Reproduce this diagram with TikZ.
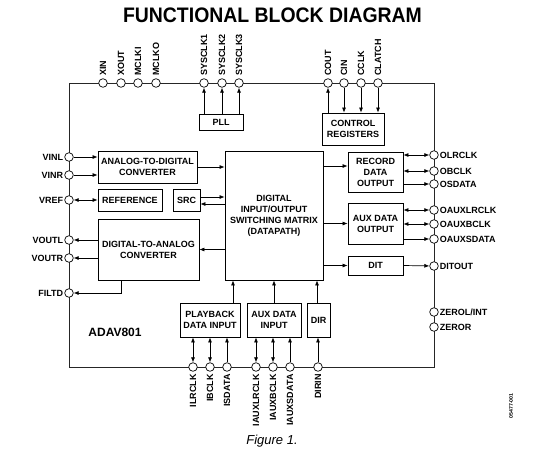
\documentclass[tikz,border=0pt]{standalone}
\usepackage{fontspec}
\setmainfont{Liberation Sans}
\usetikzlibrary{arrows.meta,calc}
\begin{document}
\begin{tikzpicture}[x=1pt,y=-1pt,
  box/.style={draw, line width=0.8pt, inner sep=0pt, font=\fontsize{9}{11}\selectfont\bfseries, align=center},
  pinc/.style={circle, draw, fill=white, line width=0.7pt, minimum size=8.6pt, inner sep=0pt},
  lab/.style={font=\fontsize{9}{11}\selectfont\bfseries, inner sep=1pt},
  arr/.style={-{Latex[length=5pt,width=4pt]}, line width=0.7pt},
  darr/.style={{Latex[length=5pt,width=4pt]}-{Latex[length=5pt,width=4pt]}, line width=0.7pt},
  border/.style={line width=1pt, draw=black!85}]
\useasboundingbox (0,0) rectangle (546,453);

% title
\node[font=\fontsize{21}{24}\selectfont\bfseries, xscale=0.925] (title) at (272.5,15) {FUNCTIONAL BLOCK DIAGRAM};

% chip outline
\draw[border] (69,83) rectangle (434,367);

% blocks
\node[box, minimum width=99pt, minimum height=32pt] (adc) at (147.5,167) {ANALOG-TO-DIGITAL\\CONVERTER};
\node[box, minimum width=64pt, minimum height=22pt] (ref) at (130,200) {REFERENCE};
\node[box, minimum width=27pt, minimum height=22pt] (src) at (186.5,200) {SRC};
\node[box, minimum width=101pt, minimum height=61pt] (dac) at (148.5,249.5) {DIGITAL-TO-ANALOG\\CONVERTER};
\node[box, minimum width=98pt, minimum height=129pt] (mat) at (274,215.5) {DIGITAL\\INPUT/OUTPUT\\SWITCHING MATRIX\\(DATAPATH)};
\node[box, minimum width=55pt, minimum height=40pt] (rec) at (375.5,172) {RECORD\\DATA\\OUTPUT};
\node[box, minimum width=55pt, minimum height=41pt] (auxo) at (375.5,223.5) {AUX DATA\\OUTPUT};
\node[box, minimum width=55pt, minimum height=19pt] (dit) at (375.5,265.5) {DIT};
\node[box, minimum width=60pt, minimum height=34pt] (pb) at (210,320) {PLAYBACK\\DATA INPUT};
\node[box, minimum width=54pt, minimum height=34pt] (auxi) at (274,320) {AUX DATA\\INPUT};
\node[box, minimum width=23pt, minimum height=34pt] (dir) at (318.5,320) {DIR};
\node[box, minimum width=44pt, minimum height=16pt] (pll) at (221,122) {PLL};
\node[box, minimum width=62pt, minimum height=32pt] (ctrl) at (353,129) {CONTROL\\REGISTERS};

% pins: top
\foreach \n/\x/\t in {xin/103/XIN, xout/121/XOUT, mclki/138/MCLKI, mclko/156/MCLKO,
  sa/204/SYSCLK1, sb/222/SYSCLK2, sc/239/SYSCLK3,
  cout/328/COUT, cin/344/CIN, cclk/361/CCLK, clatch/378/CLATCH}{
  \node[pinc] (\n) at (\x,83) {};
  \node[lab, rotate=90, anchor=west] at ([yshift=1.5pt]\n.north) {\t};
}
% pins: left
\foreach \n/\y/\t in {vinl/157/VINL, vinr/175/VINR, vref/200/VREF, voutl/240/VOUTL, voutr/258/VOUTR, filtd/293/FILTD}{
  \node[pinc] (\n) at (69,\y) {};
  \node[lab, anchor=east] at (\n.west) {\t};
}
% pins: right
\foreach \n/\y/\t in {olrclk/155/OLRCLK, obclk/171/OBCLK, osdata/184/OSDATA,
  oauxlrclk/210/OAUXLRCLK, oauxbclk/224/OAUXBCLK, oauxsdata/239/OAUXSDATA,
  ditout/266/DITOUT, zerol/312/{ZEROL/INT}, zeror/327/ZEROR}{
  \node[pinc] (\n) at (434,\y) {};
  \node[lab, anchor=west] at (\n.east) {\t};
}
% pins: bottom
\foreach \n/\x/\t in {ilrclk/193/ILRCLK, ibclk/210/IBCLK, isdata/227/ISDATA,
  iauxlrclk/256/IAUXLRCLK, iauxbclk/273/IAUXBCLK, iauxsdata/290/IAUXSDATA, dirin/318/DIRIN}{
  \node[pinc] (\n) at (\x,367) {};
  \node[lab, rotate=90, anchor=east] at ([yshift=-1.5pt]\n.south) {\t};
}

% top connectors
\foreach \p in {sa,sb,sc}{ \draw[arr] (\p |- pll.north) -- (\p); }
\draw[arr] (cout |- ctrl.north) -- (cout);
\foreach \p in {cin,cclk,clatch}{ \draw[arr] (\p) -- (\p |- ctrl.north); }

% left connectors
\draw[arr] (vinl) -- (vinl -| adc.west);
\draw[arr] (vinr) -- (vinr -| adc.west);
\draw[darr] (vref) -- (vref -| ref.west);
\draw[arr] (adc.east) -- (adc.east -| mat.west);
\draw[arr] ([yshift=3pt]src.east) -- ([yshift=3pt]src.east -| mat.west);
\draw[arr] ([yshift=-4pt]src.east -| mat.west) -- ([yshift=-4pt]src.east);
\draw[arr] (dac.east -| mat.west) -- (dac.east);
\draw[arr] (voutl -| dac.west) -- (voutl);
\draw[arr] (voutr -| dac.west) -- (voutr);
\draw[arr] ([xshift=-27.5pt]dac.south) |- (filtd);

% right connectors
\draw[arr] ([yshift=6pt]rec.west -| mat.east) -- ([yshift=6pt]rec.west);
\draw[darr] (olrclk -| rec.east) -- (olrclk);
\draw[darr] (obclk -| rec.east) -- (obclk);
\draw[arr] (osdata -| rec.east) -- (osdata);
\draw[arr] (auxo.west -| mat.east) -- (auxo.west);
\draw[darr] (oauxlrclk -| auxo.east) -- (oauxlrclk);
\draw[darr] (oauxbclk -| auxo.east) -- (oauxbclk);
\draw[arr] (oauxsdata -| auxo.east) -- (oauxsdata);
\draw[arr] (dit.west -| mat.east) -- (dit.west);
\draw[arr] (dit.east) -- (ditout);

% bottom connectors
\draw[arr] ([xshift=23pt]pb.north) -- ([xshift=23pt]pb.north |- mat.south);
\draw[arr] (auxi.north) -- (auxi.north |- mat.south);
\draw[arr] ([xshift=-1.5pt]dir.north) -- ([xshift=-1.5pt]dir.north |- mat.south);
\draw[darr] (ilrclk) -- (ilrclk |- pb.south);
\draw[darr] (ibclk) -- (ibclk |- pb.south);
\draw[arr] (isdata) -- (isdata |- pb.south);
\draw[darr] (iauxlrclk) -- (iauxlrclk |- auxi.south);
\draw[darr] (iauxbclk) -- (iauxbclk |- auxi.south);
\draw[arr] (iauxsdata) -- (iauxsdata |- auxi.south);
\draw[arr] (dirin) -- (dirin |- dir.south);

% texts
\node[font=\fontsize{12}{14}\selectfont\bfseries] (part) at (115,332) {ADAV801};
\node[font=\fontsize{13}{15}\selectfont\itshape] (fig) at (272,441) {Figure 1.};
\node[font=\fontsize{5.2}{6}\selectfont\bfseries, rotate=90] (code) at (511,406) {05477-001};
\end{tikzpicture}
\end{document}
